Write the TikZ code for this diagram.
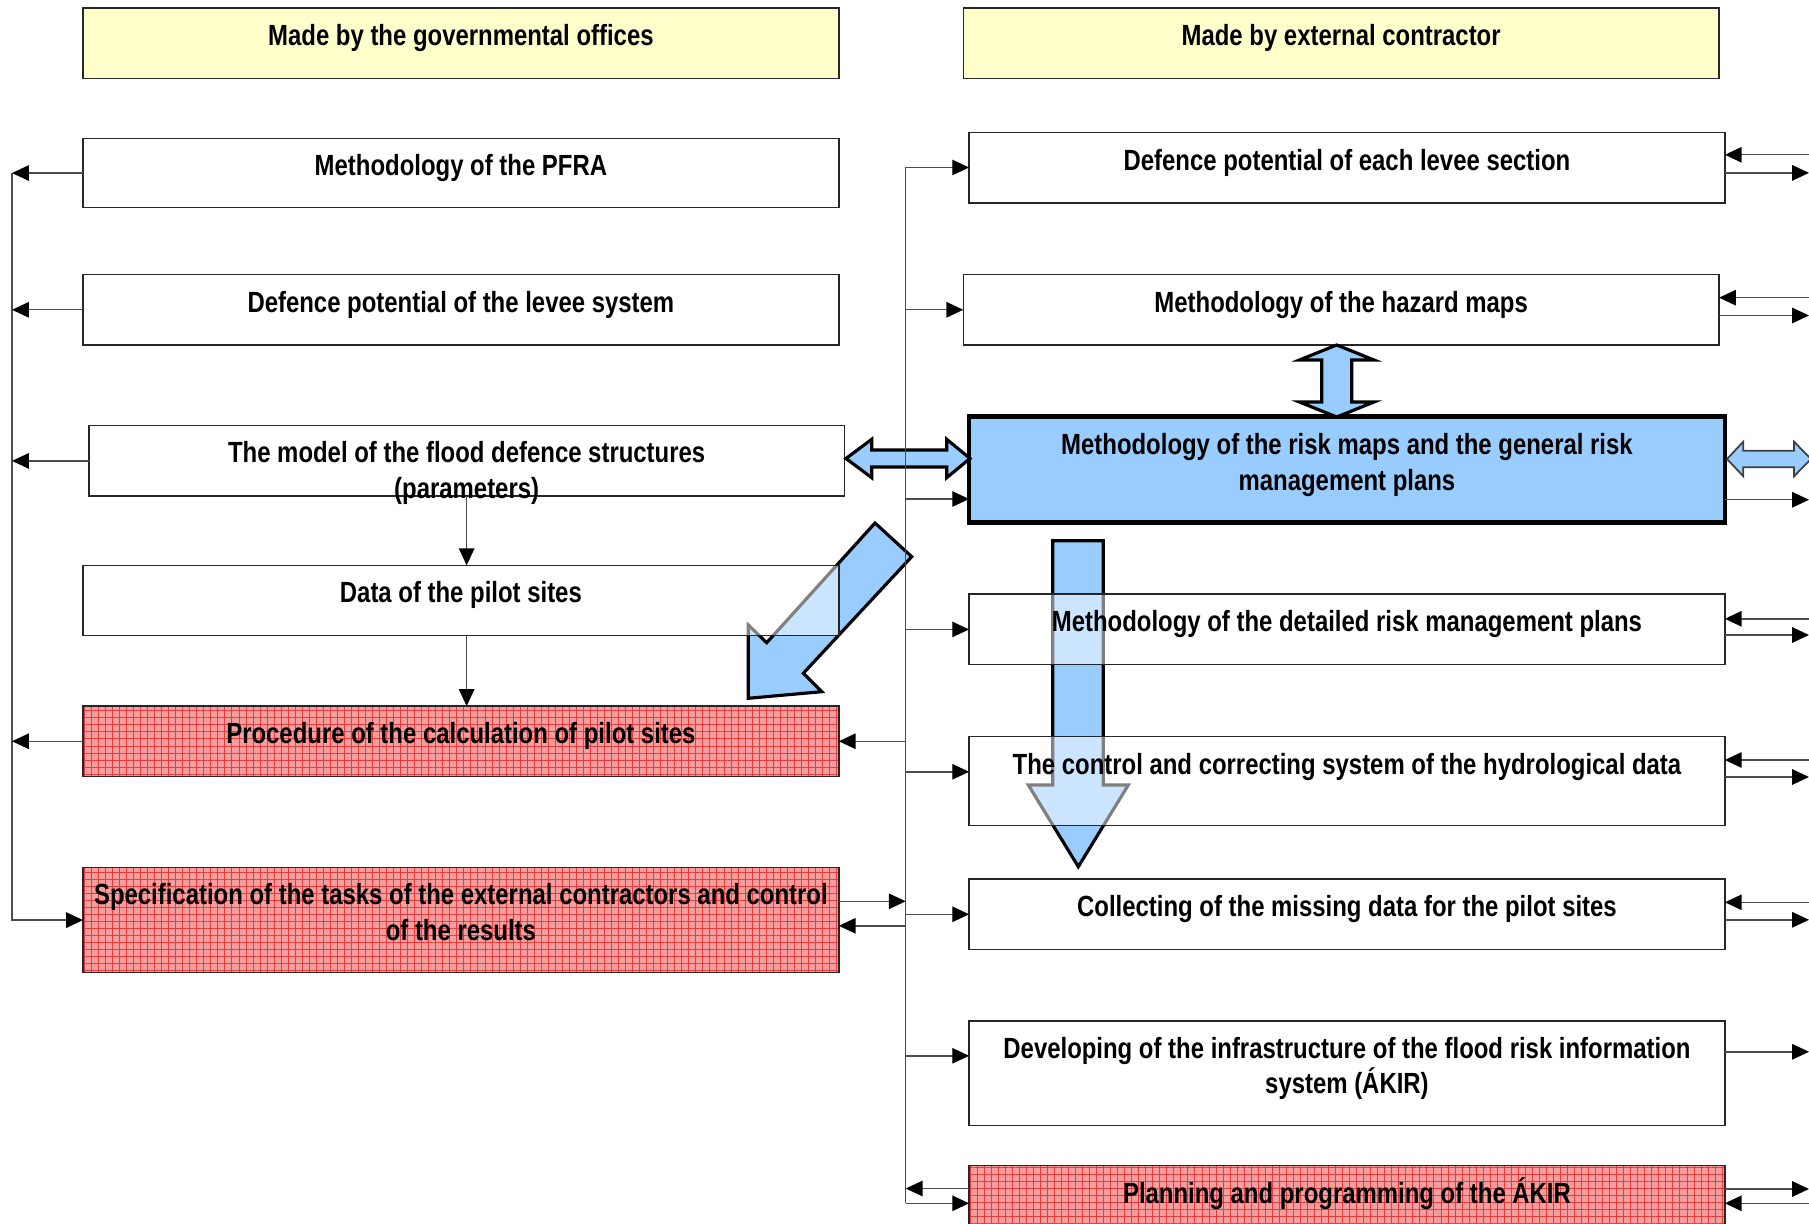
\documentclass[tikz,border=0pt]{standalone}
\usepackage{fontspec}
\setmainfont[FakeStretch=0.82]{Liberation Sans}
\usetikzlibrary{arrows.meta,patterns.meta}
\definecolor{hdrY}{RGB}{255,255,204}
\definecolor{blueF}{RGB}{153,204,255}
\definecolor{redBase}{RGB}{246,158,158}
\definecolor{redGrid}{RGB}{232,60,60}
\begin{document}
\begin{tikzpicture}[x=0.1mm,y=-0.1mm,
  box/.style={draw=black!85,line width=0.45pt,fill=white,inner sep=0pt,outer sep=0pt,minimum width=75.57mm,minimum height=7.04mm},
  hdr/.style={box,fill=hdrY},
  redbox/.style={box,preaction={fill=redBase},pattern={Hatch[angle=0,distance=2pt,line width=0.28pt]},pattern color=redGrid},
  seethru/.style={box,fill opacity=0.5},
  bluebox/.style={box,fill=blueF,draw=black,line width=1.2pt},
  txt/.style={inner sep=0pt,outer sep=0pt,font=\fontsize{8.3}{10.15}\selectfont\bfseries,align=center},
  conn/.style={draw=black!70,line width=0.4pt},
  arr/.style={conn,-{Triangle[length=4.8pt,width=4.4pt,color=black]}},
  barrow/.style={draw=black,line width=0.9pt,fill=blueF,line join=miter},
]
\useasboundingbox (0,0) rectangle (1809,1224);

% big block arrows (behind boxes)
\path[barrow] (875,523) -- (911.7,556.7) -- (803.3,673.3) -- (821.7,691.7) -- (748.3,698.3) -- (748.3,625) -- (766.7,642.7) -- cycle;
\path[barrow] (1052.7,540.7) -- (1103.3,540.7) -- (1103.3,785) -- (1128.3,785) -- (1078.3,866.7) -- (1028.3,785) -- (1052.7,785) -- cycle;

% boxes
\node[hdr] (H1) at (460.9,43.3) {};
\node[hdr] (H2) at (1341.15,43.3) {};
\node[box,minimum height=6.93mm] (L1) at (460.9,173.05) {};
\node[box] (L2) at (460.9,309.8) {};
\node[box] (L3) at (466.65,460.9) {};
\node[seethru] (L4) at (460.9,600.5) {};
\node[redbox] (L5) at (460.9,741.25) {};
\node[redbox,minimum height=10.5mm] (L6) at (460.9,920.1) {};

\node[box] (R1) at (1346.95,167.9) {};
\node[box] (R2) at (1341.15,309.8) {};
\node[bluebox,minimum height=10.61mm] (R3) at (1346.95,469.55) {};
\node[seethru,minimum height=7.05mm] (R4) at (1346.95,629.45) {};
\node[seethru,minimum height=8.9mm] (R5) at (1346.95,780.8) {};
\node[box] (R6) at (1346.95,914.3) {};
\node[box,minimum height=10.43mm] (R7) at (1346.95,1073.15) {};
\node[redbox,minimum height=8mm] (R8) at (1346.95,1205.5) {};

% double block arrows
\path[barrow] (846,458.5) -- (871.7,439.3) -- (871.7,450) -- (946.7,450) -- (946.7,439.3) -- (970,458.5) -- (946.7,477.7) -- (946.7,467) -- (871.7,467) -- (871.7,477.7) -- cycle;
\path[barrow] (1336.7,345) -- (1374,360) -- (1351.7,360) -- (1351.7,402) -- (1374,402) -- (1336.7,417) -- (1299.4,402) -- (1321.7,402) -- (1321.7,360) -- (1299.4,360) -- cycle;
\path[barrow,draw=black!75,line width=0.5pt] (1727,459) -- (1743.3,441.7) -- (1743.3,450.7) -- (1794,450.7) -- (1794,441.7) -- (1811,459) -- (1794,476.3) -- (1794,467.3) -- (1743.3,467.3) -- (1743.3,476.3) -- cycle;

% left bus
\coordinate (bL) at (12,173.2);
\draw[arr] (bL) |- (L6.west);
\draw[arr] (L1.west) -- (L1.west -| bL);
\draw[arr] (L2.west) -- (L2.west -| bL);
\draw[arr] (L3.west) -- (L3.west -| bL);
\draw[arr] (L5.west) -- (L5.west -| bL);

% vertical arrows in left column
\draw[arr] (L3.south) -- (L3.south |- L4.north);
\draw[arr] (L3.south |- L4.south) -- (L3.south |- L5.north);

% middle bus
\coordinate (mT) at (905.7,167.5);
\coordinate (mB) at (905.7,1203.3);
\coordinate (m3) at (905.7,499);
\coordinate (m5) at (905.7,771.8);
\coordinate (m7) at (905.7,1055.8);
\coordinate (m8) at (905.7,1188.5);
\coordinate (m6a) at (905.7,901.3);
\coordinate (m6b) at (905.7,925.8);
\draw[conn] (mT) -- (mB);
\draw[arr] (mT) -- (mT -| R1.west);
\draw[arr] (mT |- R2.west) -- (R2.west);
\draw[arr] (m3) -- (m3 -| R3.west);
\draw[arr] (mT |- R4.west) -- (R4.west);
\draw[arr] (m5) -- (m5 -| R5.west);
\draw[arr] (mT |- R6.west) -- (R6.west);
\draw[arr] (m7) -- (m7 -| R7.west);
\draw[arr] (mB) -- (mB -| R8.west);
\draw[arr] (m8 -| R8.west) -- (m8);
\draw[arr] (mT |- L5.east) -- (L5.east);
\draw[arr] (m6a -| L6.east) -- (m6a);
\draw[arr] (m6b) -- (m6b -| L6.east);

% right edge connectors
\coordinate (e1i) at (1809,154.8);
\coordinate (e1o) at (1809,172.9);
\coordinate (e2i) at (1809,297.7);
\coordinate (e2o) at (1809,315.5);
\coordinate (e3o) at (1809,499.8);
\coordinate (e4i) at (1809,618.8);
\coordinate (e4o) at (1809,635);
\coordinate (e5i) at (1809,760);
\coordinate (e5o) at (1809,777);
\coordinate (e6i) at (1809,902.3);
\coordinate (e6o) at (1809,919.8);
\coordinate (e7o) at (1809,1051.8);
\coordinate (e8o) at (1809,1189);
\coordinate (e8i) at (1809,1203.3);
\draw[arr] (e1i) -- (e1i -| R1.east);
\draw[arr] (e1o -| R1.east) -- (e1o);
\draw[arr] (e2i) -- (e2i -| R2.east);
\draw[arr] (e2o -| R2.east) -- (e2o);
\draw[arr] (e3o -| R3.east) -- (e3o);
\draw[arr] (e4i) -- (e4i -| R4.east);
\draw[arr] (e4o -| R4.east) -- (e4o);
\draw[arr] (e5i) -- (e5i -| R5.east);
\draw[arr] (e5o -| R5.east) -- (e5o);
\draw[arr] (e6i) -- (e6i -| R6.east);
\draw[arr] (e6o -| R6.east) -- (e6o);
\draw[arr] (e7o -| R7.east) -- (e7o);
\draw[arr] (e8o -| R8.east) -- (e8o);
\draw[arr] (e8i) -- (e8i -| R8.east);

% texts
\node[txt,anchor=base] (tH1) at (460.9,45.6) {Made by the governmental offices};
\node[txt,anchor=base] (tH2) at (1341.15,45.6) {Made by external contractor};
\node[txt,anchor=base] (tL1) at (460.9,175.9) {Methodology of the PFRA};
\node[txt,anchor=base] (tL2) at (460.9,312.1) {Defence potential of the levee system};
\node[txt,anchor=north] (tL3) at (466.65,441.7) {The model of the flood defence structures\\(parameters)};
\node[txt,anchor=base] (tL4) at (460.9,602.8) {Data of the pilot sites};
\node[txt,anchor=base] (tL5) at (460.9,743.6) {Procedure of the calculation of pilot sites};
\node[txt,anchor=north] (tL6) at (460.9,883.6) {Specification of the tasks of the external contractors and control\\of the results};
\node[txt,anchor=base] (tR1) at (1346.95,170.2) {Defence potential of each levee section};
\node[txt,anchor=base] (tR2) at (1341.15,312.1) {Methodology of the hazard maps};
\node[txt,anchor=north] (tR3) at (1346.95,433.5) {Methodology of the risk maps and the general risk\\management plans};
\node[txt,anchor=base] (tR4) at (1346.95,631.7) {Methodology of the detailed risk management plans};
\node[txt,anchor=base] (tR5) at (1346.95,774.5) {The control and correcting system of the hydrological data};
\node[txt,anchor=base] (tR6) at (1346.95,916.6) {Collecting of the missing data for the pilot sites};
\node[txt,anchor=north] (tR7) at (1346.95,1037) {Developing of the infrastructure of the flood risk information\\system (ÁKIR)};
\node[txt,anchor=base] (tR8) at (1346.95,1203) {Planning and programming of the ÁKIR};
\end{tikzpicture}
\end{document}
